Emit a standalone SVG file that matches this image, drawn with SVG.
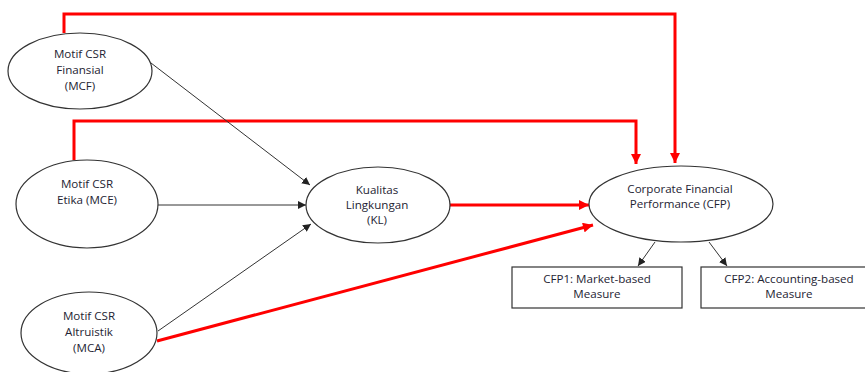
<svg xmlns="http://www.w3.org/2000/svg" width="865" height="372" viewBox="0 0 865 372">
<defs>
<style>
.node ellipse, .node rect{fill:#fff;stroke:#333;stroke-width:1.2}
.t{font-family:"Open Sans","Liberation Sans",Arial,sans-serif;font-size:11.6px;fill:#1e2433;text-anchor:middle;dominant-baseline:central}
.blk{fill:none;stroke:#333;stroke-width:1}
.red{fill:none;stroke:#f00;stroke-width:3}
</style>
<marker id="ab" viewBox="0 0 10 10" refX="10" refY="5" markerWidth="8" markerHeight="8" markerUnits="userSpaceOnUse" orient="auto"><path d="M0,0L10,5L0,10z" fill="#222"/></marker>
<marker id="ar" viewBox="0 0 10 10" refX="10" refY="5" markerWidth="12" markerHeight="10" markerUnits="userSpaceOnUse" orient="auto"><path d="M0,0L10,5L0,10z" fill="#f00"/></marker>
</defs>
<rect width="865" height="372" fill="#fff"/>
<g id="connectors">
<polyline class="red" points="64,33 64,14 675,14 675,163" marker-end="url(#ar)"/>
<polyline class="red" points="74,160 74,121 636,121 636,164" marker-end="url(#ar)"/>
<line class="red" x1="449" y1="205" x2="589" y2="205" marker-end="url(#ar)"/>
<line class="red" x1="157" y1="341" x2="593" y2="225" marker-end="url(#ar)"/>
<line class="blk" x1="151" y1="63" x2="310" y2="185" marker-end="url(#ab)"/>
<line class="blk" x1="158" y1="205" x2="306" y2="205" marker-end="url(#ab)"/>
<line class="blk" x1="158" y1="331" x2="311" y2="224" marker-end="url(#ab)"/>
<line class="blk" x1="655" y1="242" x2="638" y2="266" marker-end="url(#ab)"/>
<line class="blk" x1="709" y1="242" x2="727" y2="266" marker-end="url(#ab)"/>
</g>
<g id="MCF" class="node"><ellipse cx="80" cy="71" rx="72" ry="38"/><text class="t" x="80" y="53">Motif CSR</text><text class="t" x="80" y="69">Finansial</text><text class="t" x="80" y="85">(MCF)</text></g>
<g id="MCE" class="node"><ellipse cx="87" cy="204" rx="71" ry="44"/><text class="t" x="87" y="183">Motif CSR</text><text class="t" x="87" y="199">Etika (MCE)</text></g>
<g id="MCA" class="node"><ellipse cx="89" cy="333" rx="68" ry="41"/><text class="t" x="89" y="315">Motif CSR</text><text class="t" x="89" y="331">Altruistik</text><text class="t" x="89" y="347">(MCA)</text></g>
<g id="KL" class="node"><ellipse cx="378" cy="205" rx="72" ry="38"/><text class="t" x="377" y="189">Kualitas</text><text class="t" x="377" y="204">Lingkungan</text><text class="t" x="377" y="219">(KL)</text></g>
<g id="CFP" class="node"><ellipse cx="681" cy="204" rx="92" ry="38"/><text class="t" x="680" y="188">Corporate Financial</text><text class="t" x="680" y="203">Performance (CFP)</text></g>
<g id="CFP1" class="node"><rect x="512" y="267" width="170" height="41"/><text class="t" x="597" y="278">CFP1: Market-based</text><text class="t" x="597" y="293">Measure</text></g>
<g id="CFP2" class="node"><rect x="701" y="267" width="170" height="41"/><text class="t" x="789" y="278">CFP2: Accounting-based</text><text class="t" x="789" y="293">Measure</text></g>
</svg>
